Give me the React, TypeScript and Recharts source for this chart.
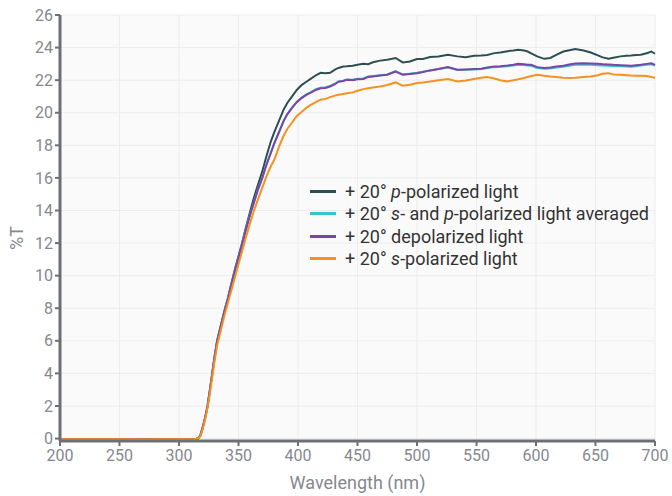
import { LineChart, Line, XAxis, YAxis, CartesianGrid, Legend } from 'recharts';

const wavelengths = [
  200, 210, 220, 230, 240, 250, 260, 270, 280, 290, 300, 310,
  313, 316, 318, 320, 322, 324, 326, 328, 330, 332,
  335, 338, 341, 344, 347, 350, 353, 356, 360, 363,
  366, 370, 373, 377, 380, 384, 388, 391, 395, 399,
  403, 407, 410, 415, 419, 423, 427, 431, 434, 438,
  441, 446, 450, 455, 459, 463, 469, 475, 482, 488,
  494, 500, 505, 511, 518, 526, 534, 541, 548, 554,
  559, 565, 570, 576, 581, 585, 590, 593, 596, 601,
  607, 612, 617, 623, 629, 633, 640, 646, 652, 656,
  661, 665, 671, 676, 680, 684, 688, 693, 697, 700,
];

const pPolarized = [
  -0.05, -0.05, -0.04, -0.05, -0.05, -0.05, -0.05, -0.06, -0.05, -0.05, -0.05, -0.05,
  -0.04, 0.0, 0.2, 0.7, 1.3, 2.0, 3.0, 4.05, 5.1, 6.0,
  6.9, 7.8, 8.6, 9.5, 10.4, 11.2, 12.0, 12.9, 14.0, 14.8,
  15.5, 16.4, 17.2, 18.2, 18.8, 19.5, 20.2, 20.6, 21.0, 21.4,
  21.7, 21.9, 22.05, 22.3, 22.45, 22.42, 22.45, 22.65, 22.75, 22.84,
  22.85, 22.88, 22.95, 23.0, 22.98, 23.1, 23.2, 23.25, 23.36, 23.09,
  23.15, 23.3, 23.3, 23.42, 23.45, 23.56, 23.46, 23.4, 23.5, 23.52,
  23.55, 23.66, 23.7, 23.78, 23.82, 23.87, 23.82, 23.76, 23.65, 23.46,
  23.31, 23.36, 23.55, 23.76, 23.85, 23.91, 23.82, 23.7, 23.52, 23.4,
  23.31, 23.38, 23.46, 23.5, 23.52, 23.55, 23.56, 23.65, 23.76, 23.62,
];

const averaged = [
  -0.05, -0.05, -0.04, -0.05, -0.05, -0.05, -0.05, -0.06, -0.05, -0.05, -0.05, -0.05,
  -0.04, 0.0, 0.2, 0.7, 1.3, 2.0, 3.0, 4.0, 5.05, 5.95,
  6.85, 7.75, 8.55, 9.45, 10.32, 11.12, 11.92, 12.78, 13.82, 14.52,
  15.22, 16.02, 16.72, 17.52, 18.12, 18.82, 19.52, 19.92, 20.32, 20.68,
  20.93, 21.13, 21.24, 21.44, 21.54, 21.56, 21.65, 21.78, 21.92, 21.97,
  22.04, 22.03, 22.08, 22.1, 22.22, 22.25, 22.3, 22.35, 22.55, 22.35,
  22.4, 22.45, 22.52, 22.6, 22.68, 22.78, 22.62, 22.64, 22.66, 22.68,
  22.75, 22.8, 22.82, 22.86, 22.9, 22.95, 22.93, 22.9, 22.88, 22.75,
  22.7, 22.72, 22.78, 22.82, 22.9, 22.94, 22.96, 22.94, 22.92, 22.9,
  22.88, 22.86, 22.85, 22.84, 22.82, 22.86, 22.9, 22.95, 22.98, 22.9,
];

const depolarized = [
  -0.05, -0.05, -0.04, -0.05, -0.05, -0.05, -0.05, -0.06, -0.05, -0.05, -0.05, -0.05,
  -0.04, 0.0, 0.2, 0.7, 1.3, 2.0, 3.0, 4.0, 5.05, 5.95,
  6.85, 7.75, 8.55, 9.45, 10.3, 11.1, 11.9, 12.75, 13.8, 14.5,
  15.2, 16.0, 16.7, 17.5, 18.1, 18.8, 19.5, 19.9, 20.3, 20.65,
  20.9, 21.1, 21.2, 21.4, 21.5, 21.52, 21.61, 21.75, 21.9, 21.95,
  22.02, 22.0, 22.05, 22.07, 22.2, 22.23, 22.28, 22.33, 22.53, 22.33,
  22.38, 22.43, 22.5, 22.6, 22.68, 22.8, 22.64, 22.66, 22.68, 22.7,
  22.78, 22.84, 22.85, 22.9, 22.95, 23.0, 22.98, 22.95, 22.94, 22.8,
  22.74, 22.78, 22.84, 22.88, 22.98, 23.02, 23.04, 23.02, 23.0, 22.98,
  22.96, 22.94, 22.92, 22.9, 22.88, 22.92, 22.95, 23.0, 23.04, 22.94,
];

const sPolarized = [
  -0.05, -0.05, -0.04, -0.05, -0.05, -0.05, -0.05, -0.06, -0.05, -0.05, -0.05, -0.05,
  -0.04, 0.0, 0.15, 0.6, 1.2, 1.9, 2.8, 3.8, 4.8, 5.7,
  6.6, 7.5, 8.3, 9.1, 9.9, 10.7, 11.5, 12.3, 13.3, 14.0,
  14.6, 15.4, 16.0, 16.7, 17.1, 17.9, 18.6, 19.0, 19.4, 19.8,
  20.05, 20.3, 20.45, 20.65, 20.8, 20.85, 20.96, 21.05, 21.1, 21.15,
  21.2, 21.25, 21.35, 21.45, 21.5, 21.55, 21.61, 21.7, 21.86, 21.66,
  21.72, 21.82, 21.85, 21.92, 22.0, 22.07, 21.92, 21.98, 22.07, 22.15,
  22.2, 22.1, 22.0, 21.92, 22.0, 22.05, 22.13, 22.2, 22.25, 22.33,
  22.27, 22.23, 22.2, 22.15, 22.13, 22.15, 22.2, 22.23, 22.3, 22.4,
  22.43, 22.35, 22.33, 22.3, 22.28, 22.27, 22.27, 22.25, 22.2, 22.13,
];

const xTicks = [200, 250, 300, 350, 400, 450, 500, 550, 600, 650, 700];
const yTicks = [0, 2, 4, 6, 8, 10, 12, 14, 16, 18, 20, 22, 24, 26];

const data = wavelengths.map((wl, i) => ({
  wl,
  p: pPolarized[i],
  avg: averaged[i],
  depol: depolarized[i],
  s: sPolarized[i],
}));

const axisColor = '#6c6f76';
const tickColor = '#85888e';

const legendItems = [
  { color: '#2e4f4f', label: <>+ 20° <i>p</i>-polarized light</> },
  { color: '#38c2cc', label: <>+ 20° <i>s</i>- and <i>p</i>-polarized light averaged</> },
  { color: '#7b45a6', label: <>+ 20° depolarized light</> },
  { color: '#f7901e', label: <>+ 20° <i>s</i>-polarized light</> },
];

function LegendBox() {
  return (
    <div>
      {legendItems.map((item, i) => (
        <div
          key={i}
          style={{ display: 'flex', alignItems: 'center', height: 22.5, color: '#333', fontSize: 18, whiteSpace: 'nowrap' }}
        >
          <span
            style={{ display: 'inline-block', width: 26, height: 3, background: item.color, marginRight: 9 }}
          />
          <span>{item.label}</span>
        </div>
      ))}
    </div>
  );
}

function YLabel({ viewBox }: any) {
  const cx = viewBox.x + 16;
  const cy = viewBox.y + viewBox.height / 2 + 10;
  return (
    <text
      x={cx}
      y={cy}
      fill={tickColor}
      fontSize={18}
      textAnchor="middle"
      dominantBaseline="central"
      transform={`rotate(-90 ${cx} ${cy})`}
    >
      %T
    </text>
  );
}

export default function App() {
  return (
    <div style={{ fontFamily: 'Roboto, sans-serif', position: 'absolute', left: 0, top: 0 }}>
      <LineChart width={672} height={496} data={data} margin={{ top: 15, right: 17, left: 0, bottom: 0 }}>
        <CartesianGrid stroke="#ececec" fill="#fbfafb" />
        <XAxis
          dataKey="wl"
          type="number"
          domain={[200, 700]}
          ticks={xTicks}
          height={55}
          tickSize={5}
          tickMargin={4}
          axisLine={{ stroke: axisColor, strokeWidth: 3 }}
          tickLine={{ stroke: axisColor, strokeWidth: 2 }}
          tick={{ fill: tickColor, fontSize: 16 }}
          label={{ value: 'Wavelength (nm)', position: 'insideBottom', offset: 7, fill: tickColor, fontSize: 18 }}
        />
        <YAxis
          type="number"
          domain={[-0.15, 26]}
          ticks={yTicks}
          width={60}
          tickSize={5}
          tickMargin={2}
          allowDataOverflow
          axisLine={{ stroke: axisColor, strokeWidth: 3 }}
          tickLine={{ stroke: axisColor, strokeWidth: 2 }}
          tick={{ fill: tickColor, fontSize: 16 }}
          label={<YLabel />}
        />
        <Legend
          layout="vertical"
          align="center"
          verticalAlign="middle"
          content={<LegendBox />}
          wrapperStyle={{ position: 'absolute', left: 310, top: 180, width: 'auto' }}
        />
        <Line dataKey="p" type="linear" stroke="#2e4f4f" strokeWidth={2} dot={false} isAnimationActive={false} />
        <Line dataKey="avg" type="linear" stroke="#38c2cc" strokeWidth={2} dot={false} isAnimationActive={false} />
        <Line dataKey="depol" type="linear" stroke="#7b45a6" strokeWidth={2} dot={false} isAnimationActive={false} />
        <Line dataKey="s" type="linear" stroke="#f7901e" strokeWidth={2} dot={false} isAnimationActive={false} />
      </LineChart>
    </div>
  );
}
